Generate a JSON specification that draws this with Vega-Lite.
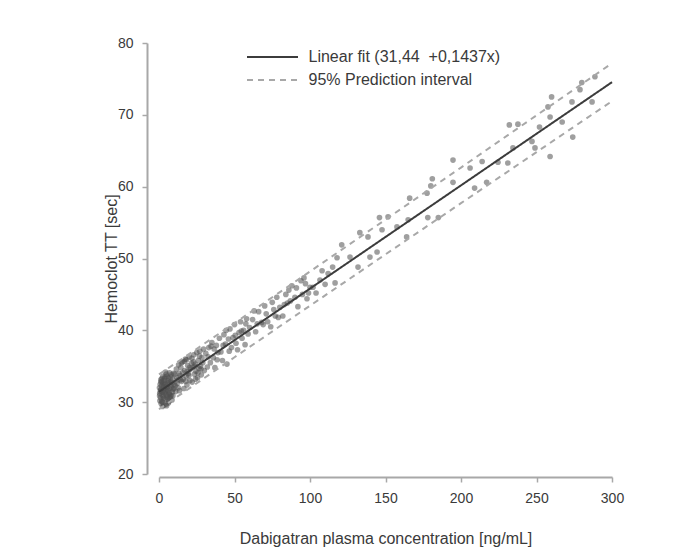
{
  "$schema": "https://vega.github.io/schema/vega-lite/v6.json",
  "autosize": {"type": "none"},
  "padding": {"left": 159, "top": 43, "right": 77, "bottom": 82},
  "width": 453,
  "height": 431,
  "background": "#ffffff",
  "config": {
    "view": {"stroke": null},
    "font": "Liberation Sans",
    "axis": {
      "grid": false,
      "domainColor": "#a8a8a8",
      "domainWidth": 2,
      "tickColor": "#a8a8a8",
      "tickWidth": 1.5,
      "tickSize": 5,
      "labelFontSize": 14,
      "labelColor": "#3a3a3a",
      "labelFlush": false,
      "titleFontSize": 16,
      "titleFontWeight": "normal",
      "titleColor": "#3a3a3a"
    },
    "legend": {
      "orient": "none",
      "legendX": 105.5,
      "legendY": 6,
      "title": null,
      "padding": 0,
      "labelFontSize": 16,
      "labelColor": "#3a3a3a",
      "labelLimit": 0,
      "labelOffset": 28,
      "rowPadding": 7,
      "symbolType": "M-5.1,0H5.1",
      "symbolSize": 100,
      "symbolStrokeWidth": 2
    }
  },
  "datasets": {
    "points": [
      {"x": 0.5, "y": 31.2}, {"x": 0.8, "y": 32.5}, {"x": 1, "y": 30.6}, {"x": 1.2, "y": 33.1}, {"x": 1.5, "y": 31.8},
      {"x": 1.8, "y": 30.1}, {"x": 2, "y": 32.9}, {"x": 2.2, "y": 31.4}, {"x": 2.5, "y": 33.6}, {"x": 2.8, "y": 30.8},
      {"x": 3, "y": 32.2}, {"x": 3.2, "y": 29.6}, {"x": 3.5, "y": 31.9}, {"x": 3.8, "y": 33.3}, {"x": 4, "y": 30.4},
      {"x": 4.2, "y": 32.6}, {"x": 4.5, "y": 31.1}, {"x": 4.8, "y": 33.9}, {"x": 5, "y": 29.5}, {"x": 5.2, "y": 32.0},
      {"x": 5.5, "y": 30.9}, {"x": 5.8, "y": 33.0}, {"x": 6, "y": 31.6}, {"x": 6.2, "y": 29.9}, {"x": 6.5, "y": 32.8},
      {"x": 6.8, "y": 31.3}, {"x": 7, "y": 34.1}, {"x": 7.2, "y": 30.6}, {"x": 7.5, "y": 32.4}, {"x": 7.8, "y": 33.5},
      {"x": 8, "y": 31.0}, {"x": 8.3, "y": 32.1}, {"x": 8.6, "y": 30.3}, {"x": 9, "y": 33.2}, {"x": 9.3, "y": 31.8},
      {"x": 9.6, "y": 34.0}, {"x": 10, "y": 32.5}, {"x": 0.3, "y": 32.0}, {"x": 0.6, "y": 30.2}, {"x": 1.1, "y": 31.7},
      {"x": 1.7, "y": 32.3}, {"x": 2.4, "y": 30.0}, {"x": 3.3, "y": 33.0}, {"x": 4.4, "y": 31.5}, {"x": 5.3, "y": 30.7},
      {"x": 6.4, "y": 33.4}, {"x": 7.3, "y": 31.9}, {"x": 8.8, "y": 31.4}, {"x": 2.1, "y": 31.0}, {"x": 3.7, "y": 32.4},
      {"x": 4.9, "y": 32.2}, {"x": 6.1, "y": 30.4}, {"x": 7.7, "y": 30.8}, {"x": 9.8, "y": 31.9}, {"x": 1.4, "y": 29.8},
      {"x": 2.9, "y": 31.6}, {"x": 4.1, "y": 33.5}, {"x": 5.6, "y": 31.7}, {"x": 0.9, "y": 31.5}, {"x": 1.9, "y": 33.3},
      {"x": 3.1, "y": 30.5}, {"x": 5.9, "y": 32.7}, {"x": 8.1, "y": 33.8}, {"x": 9.2, "y": 30.9}, {"x": 2.6, "y": 32.6},
      {"x": 4.6, "y": 29.7}, {"x": 6.7, "y": 31.1}, {"x": 7.9, "y": 32.9}, {"x": 0.4, "y": 30.9}, {"x": 1.3, "y": 32.8},
      {"x": 2.3, "y": 29.4}, {"x": 3.4, "y": 31.3}, {"x": 4.3, "y": 34.2}, {"x": 5.4, "y": 33.6}, {"x": 6.6, "y": 30.1},
      {"x": 8.5, "y": 32.7},
      {"x": 10.5, "y": 33.9}, {"x": 11, "y": 31.5}, {"x": 11.5, "y": 34.6}, {"x": 12, "y": 32.6}, {"x": 12.5, "y": 33.1},
      {"x": 13, "y": 35.2}, {"x": 13.5, "y": 31.6}, {"x": 14, "y": 33.7}, {"x": 14.5, "y": 34.8}, {"x": 15, "y": 32.9},
      {"x": 15.5, "y": 35.6}, {"x": 16, "y": 33.2}, {"x": 16.5, "y": 31.9}, {"x": 17, "y": 34.4}, {"x": 17.5, "y": 36.0},
      {"x": 18, "y": 33.6}, {"x": 18.5, "y": 32.4}, {"x": 19, "y": 35.1}, {"x": 19.5, "y": 34.0}, {"x": 20, "y": 36.3},
      {"x": 20.5, "y": 33.0}, {"x": 21, "y": 34.6}, {"x": 21.5, "y": 35.4}, {"x": 22, "y": 32.8}, {"x": 22.5, "y": 34.9},
      {"x": 23, "y": 36.6}, {"x": 23.5, "y": 33.9}, {"x": 24, "y": 35.3}, {"x": 24.5, "y": 34.3}, {"x": 25, "y": 36.9},
      {"x": 25.5, "y": 33.4}, {"x": 26, "y": 35.8}, {"x": 26.5, "y": 34.7}, {"x": 27, "y": 37.1}, {"x": 27.5, "y": 35.0},
      {"x": 28, "y": 33.8}, {"x": 28.5, "y": 36.2}, {"x": 29, "y": 35.5}, {"x": 29.5, "y": 37.4}, {"x": 30, "y": 34.4},
      {"x": 11.8, "y": 33.4}, {"x": 13.2, "y": 34.0}, {"x": 15.8, "y": 34.1}, {"x": 17.8, "y": 32.9}, {"x": 19.8, "y": 33.7},
      {"x": 21.8, "y": 36.1}, {"x": 23.8, "y": 35.0}, {"x": 25.8, "y": 34.1}, {"x": 12.8, "y": 32.0}, {"x": 16.8, "y": 35.7},
      {"x": 18.8, "y": 34.3}, {"x": 22.8, "y": 35.6}, {"x": 26.8, "y": 36.4}, {"x": 14.2, "y": 33.1}, {"x": 20.2, "y": 34.8},
      {"x": 24.2, "y": 33.2}, {"x": 10.8, "y": 32.3}, {"x": 14.8, "y": 35.5}, {"x": 18.2, "y": 35.9}, {"x": 27.8, "y": 34.6},
      {"x": 31, "y": 36.8}, {"x": 32, "y": 34.9}, {"x": 33, "y": 37.6}, {"x": 34, "y": 35.5}, {"x": 35, "y": 38.3},
      {"x": 36, "y": 36.2}, {"x": 37, "y": 34.8}, {"x": 38, "y": 37.9}, {"x": 39, "y": 36.9}, {"x": 40, "y": 38.9},
      {"x": 41, "y": 37.0}, {"x": 42, "y": 35.8}, {"x": 43, "y": 39.4}, {"x": 44, "y": 38.1}, {"x": 45, "y": 35.3},
      {"x": 46, "y": 38.8}, {"x": 47, "y": 40.2}, {"x": 48, "y": 37.6}, {"x": 49, "y": 39.0}, {"x": 50, "y": 40.8},
      {"x": 51, "y": 38.2}, {"x": 52, "y": 37.3}, {"x": 53, "y": 39.7}, {"x": 54, "y": 41.2}, {"x": 55, "y": 38.9},
      {"x": 56, "y": 40.0}, {"x": 57, "y": 38.0}, {"x": 58, "y": 41.6}, {"x": 59, "y": 39.5}, {"x": 60, "y": 40.4},
      {"x": 32.5, "y": 36.3}, {"x": 36.5, "y": 37.4}, {"x": 38.5, "y": 35.9}, {"x": 42.5, "y": 37.9}, {"x": 46.5, "y": 37.1},
      {"x": 50.5, "y": 39.3}, {"x": 54.5, "y": 39.9}, {"x": 57.5, "y": 40.9}, {"x": 34.5, "y": 37.8}, {"x": 44.5, "y": 40.0},
      {"x": 62, "y": 41.5}, {"x": 64, "y": 39.8}, {"x": 66, "y": 42.6}, {"x": 68, "y": 41.1}, {"x": 70, "y": 43.4},
      {"x": 72, "y": 41.2}, {"x": 74, "y": 40.5}, {"x": 75, "y": 43.9}, {"x": 77, "y": 42.0}, {"x": 78, "y": 44.6},
      {"x": 80, "y": 43.2}, {"x": 82, "y": 42.0}, {"x": 84, "y": 45.0}, {"x": 85, "y": 43.8}, {"x": 87, "y": 44.1},
      {"x": 88, "y": 46.2}, {"x": 90, "y": 44.6}, {"x": 92, "y": 43.3}, {"x": 94, "y": 46.9}, {"x": 95, "y": 45.0},
      {"x": 97, "y": 46.5}, {"x": 98, "y": 44.4}, {"x": 100, "y": 46.0}, {"x": 65, "y": 40.9}, {"x": 71, "y": 42.3},
      {"x": 79, "y": 41.8}, {"x": 86, "y": 45.6}, {"x": 91, "y": 45.9}, {"x": 96, "y": 47.3}, {"x": 99, "y": 45.2},
      {"x": 63, "y": 42.7}, {"x": 69, "y": 40.8}, {"x": 76, "y": 42.9}, {"x": 83, "y": 43.6},
      {"x": 102, "y": 46.0}, {"x": 104, "y": 45.2}, {"x": 106.6, "y": 47.0}, {"x": 108, "y": 48.3}, {"x": 110, "y": 46.4},
      {"x": 112, "y": 47.9}, {"x": 115, "y": 48.8}, {"x": 116.6, "y": 46.6}, {"x": 117.9, "y": 50.1}, {"x": 121, "y": 51.9},
      {"x": 126.5, "y": 50.2}, {"x": 131.8, "y": 48.8}, {"x": 133, "y": 53.6}, {"x": 138.4, "y": 53.0}, {"x": 139.7, "y": 50.2},
      {"x": 144.4, "y": 50.9}, {"x": 146, "y": 55.7}, {"x": 147.7, "y": 54.0}, {"x": 151.7, "y": 55.8}, {"x": 157.6, "y": 54.4},
      {"x": 164, "y": 53.0}, {"x": 165, "y": 55.4}, {"x": 166, "y": 58.4}, {"x": 177.5, "y": 59.1}, {"x": 178, "y": 55.7},
      {"x": 180, "y": 60.1}, {"x": 181, "y": 61.1}, {"x": 185, "y": 55.7}, {"x": 194.7, "y": 63.7}, {"x": 194.7, "y": 60.6},
      {"x": 206, "y": 62.6}, {"x": 209, "y": 59.8}, {"x": 214, "y": 63.5}, {"x": 217, "y": 60.6}, {"x": 224.5, "y": 63.4},
      {"x": 231, "y": 63.3}, {"x": 232, "y": 68.6}, {"x": 234.4, "y": 65.4}, {"x": 237.7, "y": 68.7}, {"x": 247, "y": 66.3},
      {"x": 249, "y": 65.4}, {"x": 252, "y": 68.3}, {"x": 257.6, "y": 71.1}, {"x": 259, "y": 69.7}, {"x": 259, "y": 64.2},
      {"x": 260, "y": 72.5}, {"x": 267, "y": 69.0}, {"x": 273.5, "y": 71.8}, {"x": 274, "y": 66.9}, {"x": 278.8, "y": 73.5},
      {"x": 280, "y": 74.5}, {"x": 286.8, "y": 71.8}, {"x": 288.7, "y": 75.3}
    ],
    "lines": [
      {"x": 0, "y": 31.44, "series": "Linear fit (31,44 \u00a0+0,1437x)", "band": "fit"},
      {"x": 300, "y": 74.55, "series": "Linear fit (31,44 \u00a0+0,1437x)", "band": "fit"},
      {"x": 0, "y": 33.86, "series": "95% Prediction interval", "band": "upper"},
      {"x": 50, "y": 41.0, "series": "95% Prediction interval", "band": "upper"},
      {"x": 100, "y": 48.19, "series": "95% Prediction interval", "band": "upper"},
      {"x": 150, "y": 55.42, "series": "95% Prediction interval", "band": "upper"},
      {"x": 200, "y": 62.66, "series": "95% Prediction interval", "band": "upper"},
      {"x": 250, "y": 69.93, "series": "95% Prediction interval", "band": "upper"},
      {"x": 300, "y": 77.19, "series": "95% Prediction interval", "band": "upper"},
      {"x": 0, "y": 29.02, "series": "95% Prediction interval", "band": "lower"},
      {"x": 50, "y": 36.25, "series": "95% Prediction interval", "band": "lower"},
      {"x": 100, "y": 43.43, "series": "95% Prediction interval", "band": "lower"},
      {"x": 150, "y": 50.58, "series": "95% Prediction interval", "band": "lower"},
      {"x": 200, "y": 57.7, "series": "95% Prediction interval", "band": "lower"},
      {"x": 250, "y": 64.81, "series": "95% Prediction interval", "band": "lower"},
      {"x": 300, "y": 71.91, "series": "95% Prediction interval", "band": "lower"}
    ]
  },
  "layer": [
    {
      "data": {"name": "points"},
      "mark": {"type": "circle", "size": 32, "color": "#505050", "opacity": 0.55},
      "encoding": {
        "x": {
          "field": "x", "type": "quantitative",
          "scale": {"domain": [0, 300], "nice": false, "zero": false},
          "axis": {"values": [0, 50, 100, 150, 200, 250, 300], "offset": 3, "labelPadding": 9, "title": "Dabigatran plasma concentration [ng/mL]", "titlePadding": 25}
        },
        "y": {
          "field": "y", "type": "quantitative",
          "scale": {"domain": [20, 80], "nice": false, "zero": false},
          "axis": {"values": [20, 30, 40, 50, 60, 70, 80], "offset": 12, "labelPadding": 9, "title": "Hemoclot TT [sec]", "titlePadding": -2}
        }
      }
    },
    {
      "data": {"name": "lines"},
      "mark": {"type": "line", "strokeWidth": 2},
      "encoding": {
        "x": {"field": "x", "type": "quantitative"},
        "y": {"field": "y", "type": "quantitative"},
        "detail": {"field": "band"},
        "color": {
          "field": "series", "type": "nominal",
          "scale": {"domain": ["Linear fit (31,44 \u00a0+0,1437x)", "95% Prediction interval"], "range": ["#3c3c3c", "#a8a8a8"]}
        },
        "strokeDash": {
          "field": "series", "type": "nominal",
          "scale": {"domain": ["Linear fit (31,44 \u00a0+0,1437x)", "95% Prediction interval"], "range": [[1, 0], [6, 5]]}
        }
      }
    }
  ]
}
